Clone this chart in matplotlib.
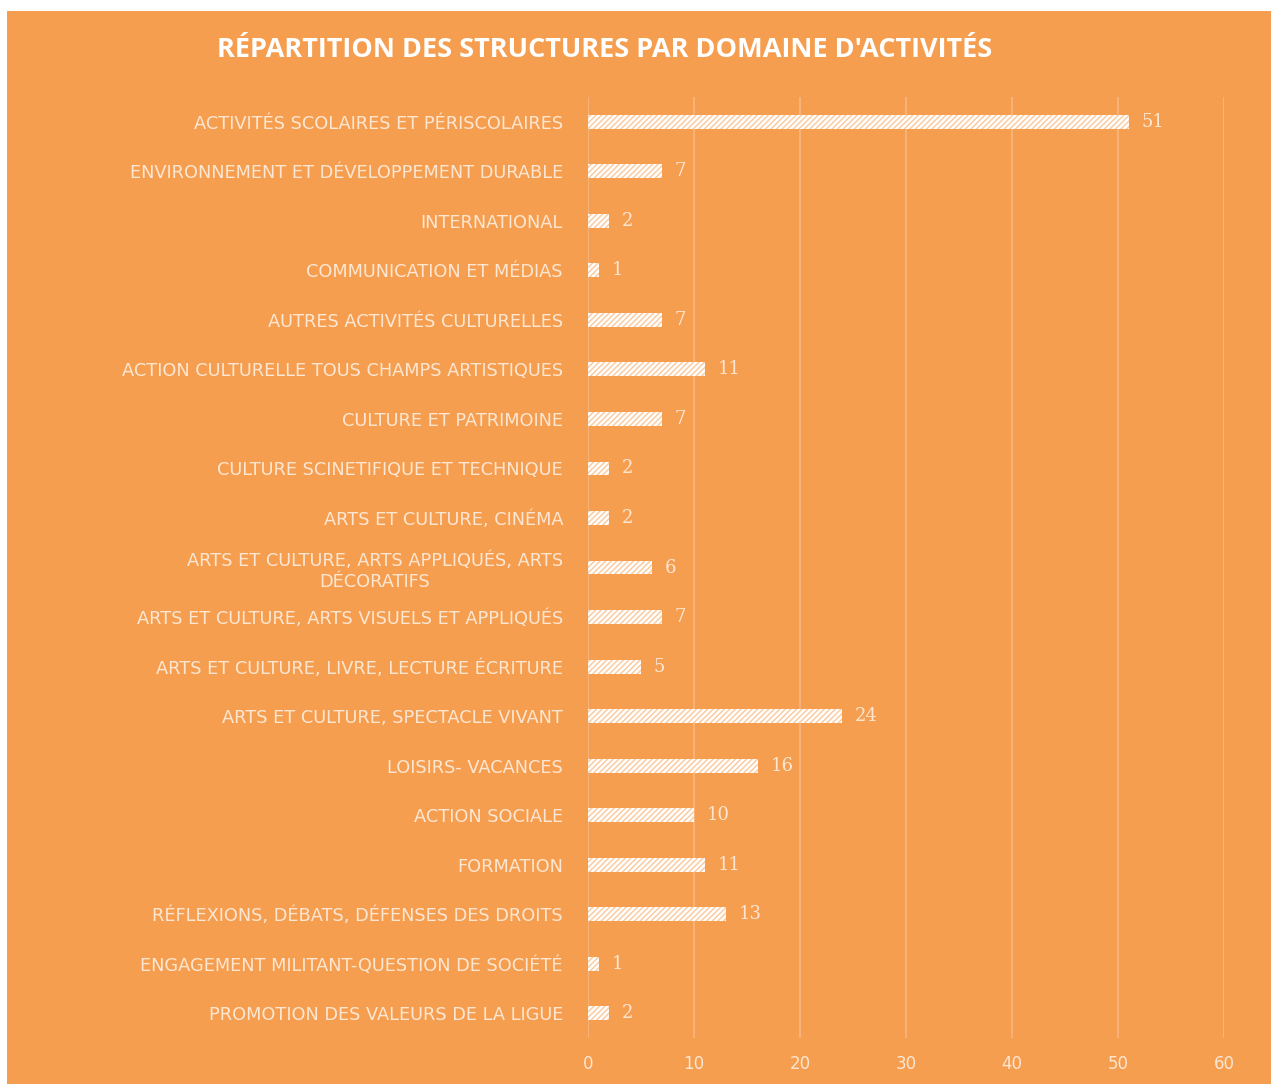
import matplotlib.pyplot as plt
from matplotlib.patches import Rectangle

orange = '#f69e50'
grid_col = '#f8b57c'

categories = [
    'ACTIVITÉS SCOLAIRES ET PÉRISCOLAIRES',
    'ENVIRONNEMENT ET DÉVELOPPEMENT DURABLE',
    'INTERNATIONAL',
    'COMMUNICATION ET MÉDIAS',
    'AUTRES ACTIVITÉS CULTURELLES',
    'ACTION CULTURELLE TOUS CHAMPS ARTISTIQUES',
    'CULTURE ET PATRIMOINE',
    'CULTURE SCINETIFIQUE ET TECHNIQUE',
    'ARTS ET CULTURE, CINÉMA',
    'ARTS ET CULTURE, ARTS APPLIQUÉS, ARTS\nDÉCORATIFS',
    'ARTS ET CULTURE, ARTS VISUELS ET APPLIQUÉS',
    'ARTS ET CULTURE, LIVRE, LECTURE ÉCRITURE',
    'ARTS ET CULTURE, SPECTACLE VIVANT',
    'LOISIRS- VACANCES',
    'ACTION SOCIALE',
    'FORMATION',
    'RÉFLEXIONS, DÉBATS, DÉFENSES DES DROITS',
    'ENGAGEMENT MILITANT-QUESTION DE SOCIÉTÉ',
    'PROMOTION DES VALEURS DE LA LIGUE',
]
values = [51, 7, 2, 1, 7, 11, 7, 2, 2, 6, 7, 5, 24, 16, 10, 11, 13, 1, 2]
xticks = [0, 10, 20, 30, 40, 50, 60]

plt.rcParams['hatch.linewidth'] = 1.0

fig = plt.figure(figsize=(12.71, 10.84), dpi=100, facecolor='white')
# orange panel with thin white margin at top and left
fig.patches.append(Rectangle((7 / 1271, 0), 1, 1 - 11 / 1084, transform=fig.transFigure,
                             facecolor=orange, edgecolor='none', zorder=-10))

ax = fig.add_axes([588 / 1271, 0.0424, (1224 - 588) / 1271, 0.9105 - 0.0424])
ax.set_facecolor('none')

y = list(range(len(categories)))
# white bars with fine light-orange diagonal hatch
bars = ax.barh(y, values, height=0.28, color='white', hatch='//////',
               edgecolor='#fbc89a', linewidth=0, zorder=3)
for b, v in zip(bars, values):
    ax.text(b.get_width() + 1.2, b.get_y() + b.get_height() / 2, str(v),
            va='center', ha='left', color='#fde6d2', fontsize=13, family='DejaVu Serif')

ax.set_ylim(len(categories) - 0.5, -0.5)
ax.set_xlim(0, 60)
ax.set_xticks(xticks)
ax.set_xticklabels([str(t) for t in xticks], color='#fde6d2', fontsize=12)
ax.set_yticks(y)
ax.set_yticklabels(categories, color='#fde6d2', fontsize=12.8, family='DejaVu Sans',
                   multialignment='center')
ax.tick_params(axis='both', length=0)
ax.tick_params(axis='x', pad=12)
ax.tick_params(axis='y', pad=18)
for s in ax.spines.values():
    s.set_visible(False)
ax.xaxis.grid(True, color=grid_col, linewidth=1.3, zorder=0)
ax.set_axisbelow(True)

fig.text(605 / 1271, 1 - 50 / 1084, "RÉPARTITION DES STRUCTURES PAR DOMAINE D'ACTIVITÉS",
         ha='center', va='center', color='white', fontsize=19.5, fontweight='bold',
         family='Open Sans')

fig.savefig('out.png', dpi=100, facecolor='white')
